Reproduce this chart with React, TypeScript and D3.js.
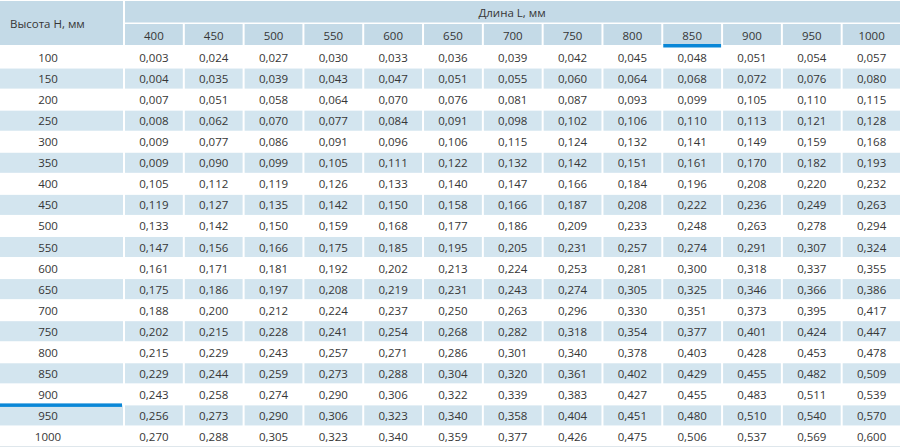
import * as d3 from 'd3';

// Длина L, мм (columns)
const lengths = [400, 450, 500, 550, 600, 650, 700, 750, 800, 850, 900, 950, 1000];
// Высота H, мм (rows)
const heights = [100, 150, 200, 250, 300, 350, 400, 450, 500, 550, 600, 650, 700, 750, 800, 850, 900, 950, 1000];

// one row per height, one value per length
const volumes = [
  [0.003, 0.024, 0.027, 0.030, 0.033, 0.036, 0.039, 0.042, 0.045, 0.048, 0.051, 0.054, 0.057],
  [0.004, 0.035, 0.039, 0.043, 0.047, 0.051, 0.055, 0.060, 0.064, 0.068, 0.072, 0.076, 0.080],
  [0.007, 0.051, 0.058, 0.064, 0.070, 0.076, 0.081, 0.087, 0.093, 0.099, 0.105, 0.110, 0.115],
  [0.008, 0.062, 0.070, 0.077, 0.084, 0.091, 0.098, 0.102, 0.106, 0.110, 0.113, 0.121, 0.128],
  [0.009, 0.077, 0.086, 0.091, 0.096, 0.106, 0.115, 0.124, 0.132, 0.141, 0.149, 0.159, 0.168],
  [0.009, 0.090, 0.099, 0.105, 0.111, 0.122, 0.132, 0.142, 0.151, 0.161, 0.170, 0.182, 0.193],
  [0.105, 0.112, 0.119, 0.126, 0.133, 0.140, 0.147, 0.166, 0.184, 0.196, 0.208, 0.220, 0.232],
  [0.119, 0.127, 0.135, 0.142, 0.150, 0.158, 0.166, 0.187, 0.208, 0.222, 0.236, 0.249, 0.263],
  [0.133, 0.142, 0.150, 0.159, 0.168, 0.177, 0.186, 0.209, 0.233, 0.248, 0.263, 0.278, 0.294],
  [0.147, 0.156, 0.166, 0.175, 0.185, 0.195, 0.205, 0.231, 0.257, 0.274, 0.291, 0.307, 0.324],
  [0.161, 0.171, 0.181, 0.192, 0.202, 0.213, 0.224, 0.253, 0.281, 0.300, 0.318, 0.337, 0.355],
  [0.175, 0.186, 0.197, 0.208, 0.219, 0.231, 0.243, 0.274, 0.305, 0.325, 0.346, 0.366, 0.386],
  [0.188, 0.200, 0.212, 0.224, 0.237, 0.250, 0.263, 0.296, 0.330, 0.351, 0.373, 0.395, 0.417],
  [0.202, 0.215, 0.228, 0.241, 0.254, 0.268, 0.282, 0.318, 0.354, 0.377, 0.401, 0.424, 0.447],
  [0.215, 0.229, 0.243, 0.257, 0.271, 0.286, 0.301, 0.340, 0.378, 0.403, 0.428, 0.453, 0.478],
  [0.229, 0.244, 0.259, 0.273, 0.288, 0.304, 0.320, 0.361, 0.402, 0.429, 0.455, 0.482, 0.509],
  [0.243, 0.258, 0.274, 0.290, 0.306, 0.322, 0.339, 0.383, 0.427, 0.455, 0.483, 0.511, 0.539],
  [0.256, 0.273, 0.290, 0.306, 0.323, 0.340, 0.358, 0.404, 0.451, 0.480, 0.510, 0.540, 0.570],
  [0.270, 0.288, 0.305, 0.323, 0.340, 0.359, 0.377, 0.426, 0.475, 0.506, 0.537, 0.569, 0.600],
];

const rowTitle = 'Высота Н, мм';
const colTitle = 'Длина L, мм';
const markedLength = 850;
const markedHeight = 900;

const W = 900;
const H = 448;
const HEADER_FILL = '#c4dae7';
const ROW_FILL = '#d3e5ef';
const ACCENT = '#0a87d7';
const TEXT = '#363636';
const FONT = '"Open Sans", "Noto Sans", sans-serif';

const fmt = (v: number) => d3.format('.3f')(v).replace('.', ',');

export default function App() {
  const x = d3.scaleBand<number>().domain(lengths).range([124, 901.5]);
  const y = d3.scaleBand<number>().domain(heights).range([47, 447]);
  const bw = x.bandwidth();
  const bh = y.bandwidth();
  const leftW = 123;
  const labelX = 48;

  return (
    <svg
      width={W}
      height={H}
      style={{ position: 'absolute', left: 0, top: 0, display: 'block' }}
      fontFamily={FONT}
      fontSize={11.5}
      fill={TEXT}
    >
      <rect x={0} y={0} width={W} height={H} fill="#fff" />

      {/* header */}
      <rect x={0} y={1} width={leftW} height={44} fill={HEADER_FILL} />
      <text x={10} y={23.5} dominantBaseline="central" fontSize={11.5}>{rowTitle}</text>
      <rect x={x(lengths[0])! + 1} y={1} width={W - x(lengths[0])! - 1} height={21.5} fill={HEADER_FILL} />
      <text x={(x(lengths[0])! + W) / 2} y={12} textAnchor="middle" dominantBaseline="central" fontSize={11.5}>
        {colTitle}
      </text>
      {lengths.map(l => (
        <g key={l}>
          <rect x={x(l)! + 1} y={24} width={bw - 2} height={21} fill={HEADER_FILL} />
          <text x={x(l)! + bw / 2} y={35} textAnchor="middle" dominantBaseline="central">{l}</text>
        </g>
      ))}
      <rect x={x(markedLength)! + 1} y={44} width={bw - 2} height={3.5} fill={ACCENT} />

      {/* body */}
      {heights.map((h, i) => {
        const shaded = i % 2 === 1;
        const cy = y(h)! + bh / 2;
        return (
          <g key={h}>
            {shaded && <rect x={0} y={y(h)! + 0.5} width={leftW} height={bh - 1} fill={ROW_FILL} />}
            <text x={labelX} y={cy} textAnchor="middle" dominantBaseline="central">{h}</text>
            {lengths.map((l, j) => (
              <g key={l}>
                {shaded && <rect x={x(l)! + 1} y={y(h)! + 0.5} width={bw - 2} height={bh - 1} fill={ROW_FILL} />}
                <text x={x(l)! + bw / 2} y={cy} textAnchor="middle" dominantBaseline="central">
                  {fmt(volumes[i][j])}
                </text>
              </g>
            ))}
          </g>
        );
      })}
      <rect x={0} y={y(markedHeight)! + bh - 1.5} width={leftW - 1} height={3.5} fill={ACCENT} />
      <rect x={0} y={446} width={W} height={1} fill="#dfe7ec" />
    </svg>
  );
}
